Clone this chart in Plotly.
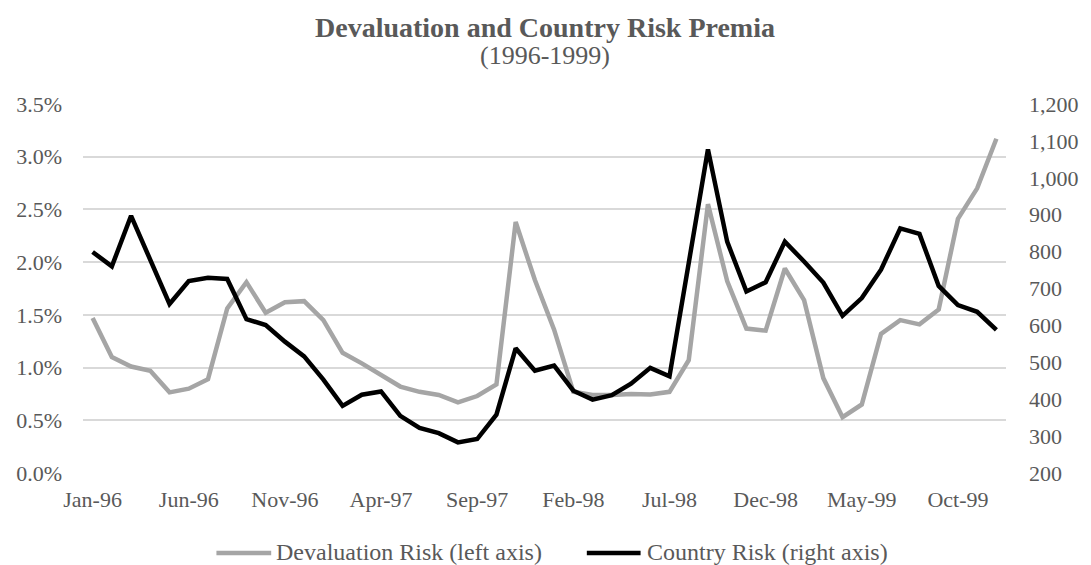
import plotly.graph_objects as go

# Monthly observations, Jan-1996 .. Dec-1999
month_names = ["Jan", "Feb", "Mar", "Apr", "May", "Jun",
               "Jul", "Aug", "Sep", "Oct", "Nov", "Dec"]
years = ["96", "97", "98", "99"]
months = [f"{m}-{y}" for y in years for m in month_names]

# Devaluation risk, percent (left axis)
devaluation_risk = [
    1.47, 1.10, 1.01, 0.97, 0.765, 0.80, 0.89, 1.56, 1.81, 1.52, 1.62, 1.63,
    1.45, 1.14, 1.04, 0.93, 0.82, 0.77, 0.74, 0.67, 0.73, 0.84, 2.38, 1.83,
    1.36, 0.77, 0.74, 0.74, 0.75, 0.745, 0.77, 1.07, 2.55, 1.82, 1.37, 1.35,
    1.94, 1.64, 0.90, 0.53, 0.65, 1.32, 1.45, 1.41, 1.55, 2.41, 2.70, 3.17,
]

# Country risk, basis points (right axis)
country_risk = [
    799, 760, 897, 778, 658, 720, 729, 726, 617, 601, 556, 516,
    453, 382, 412, 421, 355, 322, 308, 283, 292, 358, 538, 477,
    491, 423, 399, 411, 442, 485, 462, 769, 1077, 827, 692, 717,
    827, 773, 716, 626, 674, 751, 863, 848, 707, 655, 637, 588,
]

# Every fifth month gets a label
x_tick_labels = months[::5]

series_names = ["Devaluation Risk (left axis)", "Country Risk (right axis)"]
series_colors = ["#a5a5a5", "#000000"]

FONT = "Liberation Serif, Times New Roman, serif"
TEXT = "#595959"
W, H = 1091, 565
ML, MR, MT, MB = 83, 81, 104, 92

fig = go.Figure()
fig.add_trace(go.Scatter(
    x=months, y=devaluation_risk, name=series_names[0], mode="lines",
    line=dict(color=series_colors[0], width=4.5), yaxis="y",
    showlegend=False,
))
fig.add_trace(go.Scatter(
    x=months, y=country_risk, name=series_names[1], mode="lines",
    line=dict(color=series_colors[1], width=4.5), yaxis="y2",
    showlegend=False,
))

plot_w = W - ML - MR
plot_h = H - MT - MB


def px_x(px):
    return (px - ML) / plot_w


def px_y(py):
    return (H - MB - py) / plot_h


annotations = [
    dict(text="<b>Devaluation and Country Risk Premia</b>", x=0.5, y=px_y(27),
         xref="paper", yref="paper", xanchor="center", yanchor="middle",
         showarrow=False, font=dict(family=FONT, size=28, color=TEXT)),
    dict(text="(1996-1999)", x=0.5, y=px_y(56),
         xref="paper", yref="paper", xanchor="center", yanchor="middle",
         showarrow=False, font=dict(family=FONT, size=26, color=TEXT)),
]
shapes = []

# Legend drawn below the plot: line sample followed by its label
legend_items = [(217, 272, 275), (589, 643, 647)]
for (x0, x1, xt), name, color in zip(legend_items, series_names, series_colors):
    shapes.append(dict(type="line", xref="paper", yref="paper",
                       x0=px_x(x0), x1=px_x(x1), y0=px_y(553), y1=px_y(553),
                       line=dict(color=color, width=4.5)))
    annotations.append(dict(text=name, x=px_x(xt), y=px_y(552),
                            xref="paper", yref="paper", xanchor="left",
                            yanchor="middle", showarrow=False,
                            font=dict(family=FONT, size=24, color=TEXT)))

fig.update_layout(
    width=W, height=H,
    margin=dict(l=ML, r=MR, t=MT, b=MB),
    paper_bgcolor="white", plot_bgcolor="white",
    font=dict(family=FONT, size=22, color=TEXT),
    showlegend=False,
    xaxis=dict(
        type="category", categoryorder="array", categoryarray=months,
        range=[-0.5, len(months) - 0.5],
        tickmode="array", tickvals=x_tick_labels, ticktext=x_tick_labels,
        showgrid=False, zeroline=False, showline=False, ticks="",
        ticklabelstandoff=11,
        tickfont=dict(family=FONT, size=22, color=TEXT),
    ),
    yaxis=dict(
        range=[0, 3.5], dtick=0.5, tick0=0, tickformat=".1f", ticksuffix="%",
        showgrid=True, gridcolor="#d9d9d9", gridwidth=1.5,
        zeroline=False, showline=False, ticks="",
        ticklabelstandoff=20,
        tickfont=dict(family=FONT, size=22, color=TEXT),
    ),
    yaxis2=dict(
        range=[200, 1200], dtick=100, tick0=200, tickformat=",d",
        overlaying="y", side="right",
        showgrid=False, zeroline=False, showline=False, ticks="",
        ticklabelstandoff=22,
        tickfont=dict(family=FONT, size=22, color=TEXT),
    ),
    annotations=annotations,
    shapes=shapes,
)

fig.write_html("out.html")
